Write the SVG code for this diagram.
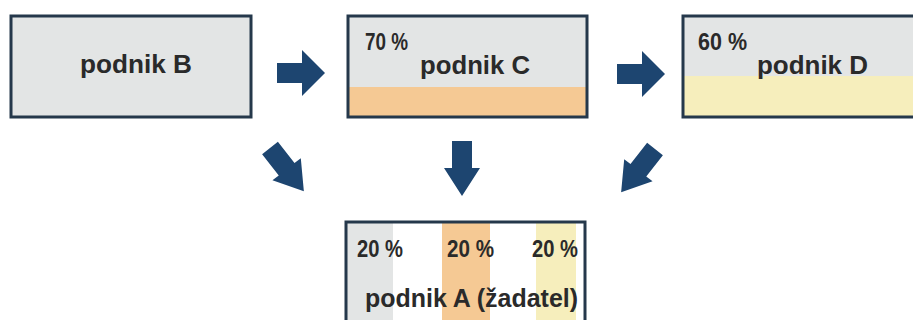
<svg xmlns="http://www.w3.org/2000/svg" width="913" height="320" viewBox="0 0 913 320">
<style>
.box{fill:#e3e5e5;stroke:#25384b;stroke-width:3}
.frame{fill:none;stroke:#25384b;stroke-width:3}
.t{font-family:"Liberation Sans",Arial,sans-serif;font-weight:bold;fill:#2a2a2a}
.main{font-size:25px}
.pct{font-size:23px}
.arr{fill:#1d4570}
</style>
<defs>
<path id="ah" d="M0,-10 L25,-10 L25,-23 L48,0 L25,23 L25,10 L0,10 Z"/>
<path id="ad" d="M0,-10 L27,-10 L27,-18 L55,0 L27,18 L27,10 L0,10 Z"/>
</defs>
<rect width="913" height="320" fill="#ffffff"/>
<g id="nodeB">
<rect class="box" x="11" y="16" width="240" height="101"/>
<text class="t main" x="136" y="73" text-anchor="middle" textLength="112" lengthAdjust="spacingAndGlyphs">podnik B</text>
</g>
<g id="nodeC">
<rect x="348" y="16" width="239" height="101" fill="#e3e5e5"/>
<rect x="348" y="87" width="239" height="30" fill="#f5c994"/>
<rect class="frame" x="348" y="16" width="239" height="101"/>
<text class="t pct" x="365" y="50" textLength="43" lengthAdjust="spacingAndGlyphs">70 %</text>
<text class="t main" x="420" y="74" textLength="110" lengthAdjust="spacingAndGlyphs">podnik C</text>
</g>
<g id="nodeD">
<rect x="683" y="16" width="245" height="101" fill="#e3e5e5"/>
<rect x="683" y="76" width="245" height="41" fill="#f6eebc"/>
<rect class="frame" x="683" y="16" width="245" height="101"/>
<text class="t pct" x="698" y="50" textLength="49" lengthAdjust="spacingAndGlyphs">60 %</text>
<text class="t main" x="757" y="74" textLength="111" lengthAdjust="spacingAndGlyphs">podnik D</text>
</g>
<g id="nodeA">
<rect x="346" y="222" width="239" height="110" fill="#ffffff"/>
<rect x="347" y="222" width="46" height="110" fill="#e3e5e5"/>
<rect x="442" y="222" width="48" height="110" fill="#f5c994"/>
<rect x="536" y="222" width="40" height="110" fill="#f6eebc"/>
<rect class="frame" x="346" y="222" width="239" height="110"/>
<text class="t pct" x="357" y="257" textLength="46" lengthAdjust="spacingAndGlyphs">20 %</text>
<text class="t pct" x="447" y="257" textLength="47" lengthAdjust="spacingAndGlyphs">20 %</text>
<text class="t pct" x="532" y="257" textLength="46" lengthAdjust="spacingAndGlyphs">20 %</text>
<text class="t main" x="365" y="307" textLength="213" lengthAdjust="spacingAndGlyphs">podnik A (žadatel)</text>
</g>
<g id="connectors" class="arr">
<use href="#ah" transform="translate(277,73)"/>
<use href="#ah" transform="translate(617,74)"/>
<use href="#ad" transform="translate(270,148) rotate(52)"/>
<use href="#ad" transform="translate(462,141) rotate(90)"/>
<use href="#ad" transform="translate(655,149) rotate(128)"/>
</g>
</svg>
